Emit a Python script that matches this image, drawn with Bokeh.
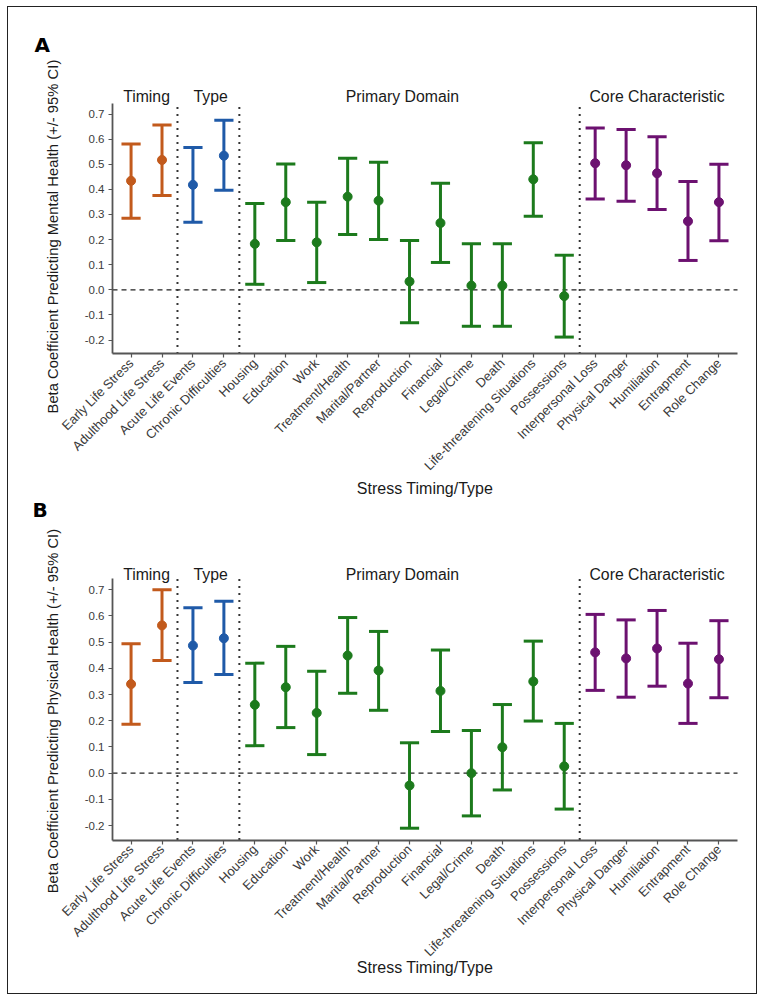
import math
from bokeh.plotting import figure
from bokeh.models import Range1d, FixedTicker, Label, PrintfTickFormatter, ColumnDataSource
from bokeh.layouts import column
from bokeh.embed import file_html
from bokeh.resources import INLINE

categories = ["Early Life Stress", "Adulthood Life Stress", "Acute Life Events", "Chronic Difficulties",
              "Housing", "Education", "Work", "Treatment/Health", "Marital/Partner", "Reproduction",
              "Financial", "Legal/Crime", "Death", "Life-threatening Situations", "Possessions",
              "Interpersonal Loss", "Physical Danger", "Humiliation", "Entrapment", "Role Change"]
groups = ["Timing"] * 2 + ["Type"] * 2 + ["Primary Domain"] * 11 + ["Core Characteristic"] * 5
group_colors = {"Timing": "#C25A1C", "Type": "#1F5AA8", "Primary Domain": "#1C7A1C",
                "Core Characteristic": "#6C1170"}
group_labels = ["Timing", "Type", "Primary Domain", "Core Characteristic"]
group_label_pos = [0.5, 2.57, 8.77, 17.0]
separators = [1.5, 3.5, 14.5]

mental_est = [0.434, 0.517, 0.418, 0.534, 0.183, 0.349, 0.189, 0.371, 0.355, 0.033,
              0.266, 0.017, 0.017, 0.440, -0.025, 0.504, 0.496, 0.464, 0.273, 0.349]
mental_lo = [0.285, 0.376, 0.269, 0.396, 0.022, 0.196, 0.029, 0.220, 0.200, -0.131,
             0.109, -0.145, -0.145, 0.293, -0.188, 0.362, 0.353, 0.320, 0.117, 0.195]
mental_hi = [0.581, 0.656, 0.567, 0.675, 0.344, 0.501, 0.349, 0.524, 0.508, 0.196,
             0.424, 0.183, 0.183, 0.586, 0.138, 0.644, 0.638, 0.609, 0.431, 0.500]

physical_est = [0.340, 0.564, 0.487, 0.515, 0.261, 0.328, 0.230, 0.449, 0.392, -0.047,
                0.314, 0.000, 0.099, 0.350, 0.026, 0.461, 0.438, 0.476, 0.342, 0.435]
physical_lo = [0.187, 0.430, 0.346, 0.377, 0.105, 0.174, 0.071, 0.305, 0.240, -0.210,
               0.159, -0.163, -0.064, 0.199, -0.137, 0.316, 0.290, 0.332, 0.190, 0.288]
physical_hi = [0.494, 0.700, 0.631, 0.656, 0.420, 0.484, 0.389, 0.594, 0.541, 0.116,
               0.470, 0.163, 0.262, 0.504, 0.190, 0.606, 0.585, 0.621, 0.496, 0.582]

y_ticks = [-0.2, -0.1, 0.0, 0.1, 0.2, 0.3, 0.4, 0.5, 0.6, 0.7]

# plotting-area limits in data units
XLO, XHI = -0.6, len(categories) - 0.4
YLO, YHI = -0.255, 0.743

# page geometry (pixels)
FIG_W = 748
PAGE_LEFT = 8
PLOT_LEFT, PLOT_RIGHT = 112, 737

FONT = "Liberation Sans"
CAP = 0.31


def make_panel(letter, est, lo, hi, ytitle, fig_top, fig_bottom, plot_top, plot_bottom,
               hdr_y, letter_xy, ytitle_xy, xtitle_y):
    sx = (XHI - XLO) / (PLOT_RIGHT - PLOT_LEFT)
    x_start = XLO - (PLOT_LEFT - PAGE_LEFT) * sx
    x_end = XHI + (PAGE_LEFT + FIG_W - PLOT_RIGHT) * sx
    sy = (YHI - YLO) / (plot_bottom - plot_top)
    y_end = YHI + (plot_top - fig_top) * sy
    y_start = YLO - (fig_bottom - plot_bottom) * sy

    x = list(range(len(categories)))
    colors = [group_colors[g] for g in groups]
    src = ColumnDataSource(dict(x=x, est=est, lo=lo, hi=hi,
                                x0=[v - CAP for v in x], x1=[v + CAP for v in x], c=colors))
    p = figure(frame_width=FIG_W, frame_height=fig_bottom - fig_top, output_backend="svg",
               toolbar_location=None, title=None,
               x_range=Range1d(x_start, x_end), y_range=Range1d(y_start, y_end),
               min_border_left=0, min_border_right=0, min_border_top=0, min_border_bottom=0)
    p.outline_line_color = None
    p.xgrid.visible = False
    p.ygrid.visible = False
    p.background_fill_color = "white"
    p.border_fill_color = "white"

    for ax in (p.xaxis[0], p.yaxis[0]):
        ax.axis_line_color = "#555555"
        ax.axis_line_width = 1.8
        ax.major_tick_line_color = "#555555"
        ax.major_tick_line_width = 1.2
        ax.major_tick_out = 4
        ax.major_tick_in = 0
        ax.minor_tick_line_color = None
        ax.major_label_text_font = FONT
        ax.major_label_text_color = "#3a3a3a"
    p.xaxis.fixed_location = YLO
    p.xaxis.bounds = (XLO, XHI)
    p.xaxis.ticker = FixedTicker(ticks=x)
    p.xaxis.major_label_overrides = {i: c for i, c in enumerate(categories)}
    p.xaxis.major_label_orientation = math.pi / 4
    p.xaxis.major_label_text_font_size = "13px"
    p.xaxis.major_label_standoff = 3
    p.yaxis.fixed_location = XLO
    p.yaxis.bounds = (YLO, YHI)
    p.yaxis.ticker = FixedTicker(ticks=y_ticks)
    p.yaxis.formatter = PrintfTickFormatter(format="%.1f")
    p.yaxis.major_label_text_font_size = "11.5px"
    p.yaxis.major_label_standoff = 4

    # reference lines
    p.segment(x0=[XLO], y0=[0], x1=[XHI], y1=[0], line_color="#222222", line_width=1.2, line_dash="5 4")
    p.segment(x0=separators, y0=[YLO] * len(separators), x1=separators, y1=[YHI] * len(separators),
              line_color="#333333", line_width=2, line_dash="2 5")

    p.segment(x0="x", y0="lo", x1="x", y1="hi", source=src, line_color="c", line_width=3)
    p.segment(x0="x0", y0="lo", x1="x1", y1="lo", source=src, line_color="c", line_width=3)
    p.segment(x0="x0", y0="hi", x1="x1", y1="hi", source=src, line_color="c", line_width=3)
    p.scatter(x="x", y="est", source=src, size=9, fill_color="c", line_color="c")

    for lab, pos in zip(group_labels, group_label_pos):
        p.add_layout(Label(x=pos, y=hdr_y, text=lab, text_align="center", text_baseline="middle",
                           text_font=FONT, text_font_size="15.8px", text_color="#1a1a1a"))
    p.add_layout(Label(x=letter_xy[0], y=letter_xy[1], text=letter, text_align="center",
                       text_baseline="middle", text_font="DejaVu Sans", text_font_style="bold",
                       text_font_size="20px", text_color="#000000"))
    p.add_layout(Label(x=ytitle_xy[0], y=ytitle_xy[1], text=ytitle, angle=math.pi / 2,
                       text_align="center", text_baseline="middle", text_font=FONT,
                       text_font_size="14.8px", text_color="#1a1a1a"))
    p.add_layout(Label(x=(XLO + XHI) / 2, y=xtitle_y, text="Stress Timing/Type", text_align="center",
                       text_baseline="middle", text_font=FONT, text_font_size="16px", text_color="#1a1a1a"))
    return p


pA = make_panel("A", mental_est, mental_lo, mental_hi,
                "Beta Coefficient Predicting Mental Health (+/- 95% CI)",
                7, 497, 102.7, 353.4, 0.769, (-2.87, 0.976), (-2.52, 0.212), -0.790)
pB = make_panel("B", physical_est, physical_lo, physical_hi,
                "Beta Coefficient Predicting Physical Health (+/- 95% CI)",
                497, 993, 578, 839.5, 0.758, (-2.94, 1.006), (-2.52, 0.237), -0.742)

layout = column(pA, pB, spacing=0,
                styles={"border": "1px solid #222222", "background": "white", "margin": "6px 0 0 7px"})

open("out.html", "w").write(file_html(layout, INLINE))
